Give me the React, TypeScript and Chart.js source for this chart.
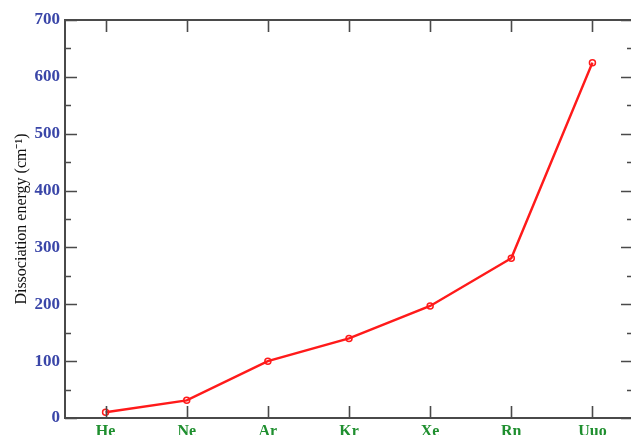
import React, { useEffect, useRef } from 'react';
import { Chart, registerables } from 'chart.js';

Chart.register(...registerables);

const categories = ['He', 'Ne', 'Ar', 'Kr', 'Xe', 'Rn', 'Uuo'];
const energies = [10, 31, 100, 140, 197, 281, 625];
const yMajorTicks = [0, 100, 200, 300, 400, 500, 600, 700];
const yMinorTicks = [50, 150, 250, 350, 450, 550, 650];
const yTitle = 'Dissociation energy (cm⁻¹)';

const SERIF = "'Liberation Serif', 'Times New Roman', serif";

const framePlugin = {
  id: 'frameTicks',
  afterDraw(chart: any) {
    const { ctx, chartArea } = chart;
    const { left, right, top, bottom } = chartArea;
    const xs = chart.scales.x;
    const ys = chart.scales.y;
    ctx.save();
    ctx.strokeStyle = '#4a4a4a';
    ctx.lineWidth = 2;
    ctx.strokeRect(left, top, right - left, bottom - top);
    ctx.lineWidth = 1.6;
    ctx.beginPath();
    yMajorTicks.forEach((v) => {
      const py = Math.round(ys.getPixelForValue(v)) + 0.5;
      ctx.moveTo(left, py);
      ctx.lineTo(left + 12, py);
      ctx.moveTo(right, py);
      ctx.lineTo(right - 12, py);
    });
    yMinorTicks.forEach((v) => {
      const py = Math.round(ys.getPixelForValue(v)) + 0.5;
      ctx.moveTo(left, py);
      ctx.lineTo(left + 6, py);
      ctx.moveTo(right, py);
      ctx.lineTo(right - 6, py);
    });
    categories.forEach((_, i) => {
      const px = Math.round(xs.getPixelForValue(i)) + 0.5;
      ctx.moveTo(px, bottom);
      ctx.lineTo(px, bottom - 12);
      ctx.moveTo(px, top);
      ctx.lineTo(px, top + 12);
    });
    ctx.stroke();
    ctx.restore();
  },
};

export default function App() {
  const canvasRef = useRef<HTMLCanvasElement | null>(null);

  useEffect(() => {
    if (!canvasRef.current) return;
    const chart = new Chart(canvasRef.current, {
      type: 'line',
      data: {
        labels: categories,
        datasets: [
          {
            data: energies,
            borderColor: '#ff1a1a',
            borderWidth: 2.5,
            pointRadius: 3,
            pointBorderWidth: 1.5,
            pointBorderColor: '#ff1a1a',
            pointBackgroundColor: 'rgba(255,255,255,0)',
            tension: 0,
            clip: false as any,
          },
        ],
      },
      options: {
        animation: false,
        responsive: true,
        maintainAspectRatio: false,
        layout: { padding: { top: 20, right: 7, left: 0, bottom: 0 } },
        plugins: { legend: { display: false }, tooltip: { enabled: false } },
        scales: {
          x: {
            type: 'category',
            offset: true,
            grid: { display: false, drawTicks: false, tickLength: 0 },
            border: { display: false },
            ticks: {
              color: '#1f8f2f',
              font: { family: SERIF, size: 16, weight: 'bold' },
              padding: 4,
              maxRotation: 0,
            },
            afterFit: (scale: any) => {
              scale.height = 22;
            },
          },
          y: {
            min: 0,
            max: 700,
            grid: { display: false, drawTicks: false, tickLength: 0 },
            border: { display: false },
            ticks: {
              stepSize: 100,
              color: '#3a46a8',
              font: { family: SERIF, size: 17, weight: 'bold' },
              padding: 5,
            },
            title: {
              display: true,
              text: yTitle,
              color: '#111',
              font: { family: SERIF, size: 16 },
              padding: { top: 12, bottom: 0 },
            },
            afterFit: (scale: any) => {
              scale.width = 65;
            },
          },
        },
      },
      plugins: [framePlugin],
    });
    return () => chart.destroy();
  }, []);

  return (
    <div style={{ position: 'fixed', left: 0, top: 0, width: 640, height: 440, background: '#fff' }}>
      <canvas ref={canvasRef} />
    </div>
  );
}
